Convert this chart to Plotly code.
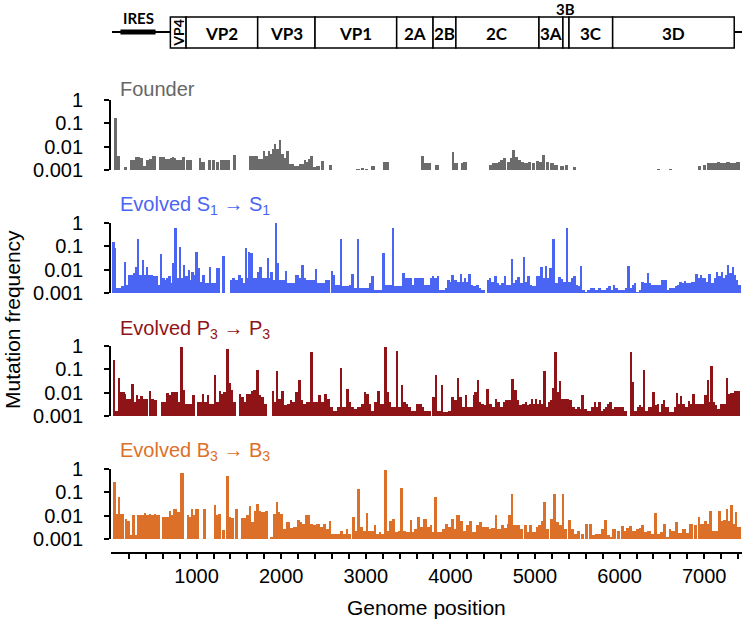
import plotly.graph_objects as go

W, H = 744, 630

# ---------------- genome map ----------------
gene_names = ["VP4", "VP2", "VP3", "VP1", "2A", "2B", "2C", "3A", "3B", "3C", "3D"]
gene_starts = [690, 876, 1722, 2400, 3365, 3795, 4065, 5047, 5330, 5402, 5918]
polyprotein_end = 7355
ires_region = [100, 515]

# ---------------- mutation frequencies ----------------
founder_pos = [24, 63, 142, 221, 245, 272, 323, 339, 378, 410, 442, 481, 568, 588, 607, 635, 666, 694,
               718, 738, 757, 793, 832, 883, 915, 1033, 1061, 1140, 1187, 1231, 1278, 1318, 1357, 1436,
               1625, 1653, 1680, 1704, 1732, 1759, 1791, 1818, 1850, 1878, 1901, 1929, 1948, 1980, 2008,
               2035, 2067, 2098, 2126, 2154, 2185, 2213, 2245, 2272, 2296, 2324, 2343, 2383, 2422, 2473,
               2572, 2895, 2946, 2994, 3073, 3211, 3243, 3659, 3693, 3731, 3828, 4022, 4051, 4129, 4158,
               4458, 4497, 4531, 4565, 4594, 4628, 4676, 4705, 4735, 4773, 4807, 4846, 4880, 4919, 4967,
               5016, 5050, 5088, 5137, 5185, 5234, 5306, 5355, 5452, 6445, 6590, 6930, 6988, 7036, 7075,
               7114, 7153, 7191, 7230, 7269, 7307, 7346, 7385]
founder_freq = [0.17, 0.0043, 0.0014, 0.0028, 0.0028, 0.0037, 0.0037, 0.0034, 0.0015, 0.0027, 0.0031,
                0.0043, 0.0037, 0.0037, 0.0037, 0.0031, 0.0031, 0.0034, 0.0037, 0.0034, 0.0027, 0.0027,
                0.0037, 0.0027, 0.0028, 0.0033, 0.0023, 0.0027, 0.0029, 0.0024, 0.0027, 0.0027, 0.0028,
                0.0046, 0.0043, 0.0043, 0.0043, 0.0043, 0.0031, 0.0031, 0.007, 0.0043, 0.007, 0.005,
                0.0083, 0.0135, 0.0083, 0.019, 0.005, 0.0034, 0.007, 0.0019, 0.0019, 0.0016, 0.0015,
                0.0019, 0.0019, 0.0027, 0.0023, 0.0031, 0.0043, 0.0014, 0.0015, 0.0025, 0.0018, 0.0012,
                0.0013, 0.0012, 0.0016, 0.0023, 0.0024, 0.0043, 0.002, 0.002, 0.0017, 0.006, 0.002,
                0.002, 0.0023, 0.0017, 0.002, 0.002, 0.0023, 0.0028, 0.0035, 0.0023, 0.0035, 0.0076,
                0.0039, 0.0028, 0.0023, 0.002, 0.0023, 0.002, 0.0025, 0.0023, 0.0046, 0.0023, 0.002,
                0.0017, 0.0016, 0.0017, 0.0014, 0.0012, 0.0012, 0.0016, 0.0017, 0.002, 0.002, 0.002,
                0.0023, 0.002, 0.002, 0.0023, 0.002, 0.002, 0.0023]

s1_pos = [16, 36, 55, 83, 115, 142, 166, 193, 225, 252, 280, 308, 331, 359, 383, 406, 430, 462, 493, 521,
          548, 568, 596, 627, 655, 678, 698, 718, 746, 769, 793, 817, 844, 872, 903, 927, 951, 971, 990,
          1022, 1050, 1073, 1101, 1128, 1152, 1180, 1211, 1239, 1306, 1397, 1424, 1456, 1495, 1527, 1550,
          1574, 1598, 1617, 1641, 1669, 1697, 1724, 1752, 1775, 1803, 1838, 1862, 1882, 1905, 1929, 1957,
          1984, 2016, 2047, 2075, 2107, 2134, 2166, 2197, 2221, 2245, 2272, 2300, 2331, 2363, 2402, 2430,
          2462, 2489, 2521, 2548, 2592, 2620, 2647, 2675, 2702, 2730, 2758, 2785, 2809, 2836, 2864, 2903,
          2931, 2963, 2994, 3026, 3053, 3073, 3101, 3132, 3160, 3203, 3231, 3262, 3286, 3314, 3341, 3369,
          3397, 3436, 3464, 3491, 3519, 3547, 3578, 3610, 3641, 3673,
          3692, 3724, 3763, 3791, 3818, 3842, 3873, 3905, 3937, 3968, 3996, 4019, 4047, 4079, 4118, 4142,
          4165, 4189, 4213, 4244, 4276, 4307, 4339, 4371, 4434, 4461, 4489, 4520, 4552, 4580, 4607, 4639,
          4666, 4694, 4726, 4749, 4773, 4797, 4828, 4860, 4887, 4923, 4946, 4974, 5014, 5041, 5073, 5096,
          5120, 5144, 5171, 5207, 5242, 5278, 5309, 5341, 5369, 5400, 5432, 5459, 5487, 5515, 5538, 5566,
          5593, 5625, 5657, 5688, 5720, 5751, 5783, 5814, 5846, 5874, 5901, 5925, 5956, 5988, 6020, 6051,
          6075, 6098, 6126, 6154, 6177, 6205, 6236, 6264, 6296, 6327, 6355, 6382, 6414, 6445, 6473, 6501,
          6532, 6564, 6595, 6627, 6659, 6690, 6714, 6741, 6765, 6793, 6820, 6848, 6880, 6903, 6927, 6951,
          6978, 7006, 7030, 7053, 7085, 7116, 7144, 7171, 7203, 7227, 7250, 7274, 7302, 7329, 7353, 7380,
          7400]
s1_freq = [0.16, 0.084, 0.0017, 0.0017, 0.002, 0.023, 0.0023, 0.0062, 0.0062, 0.0073, 0.014, 0.21, 0.0062,
           0.027, 0.0062, 0.014, 0.0062, 0.0062, 0.0053, 0.0053, 0.0023, 0.047, 0.0045, 0.0038, 0.0045,
           0.0053, 0.0027, 0.019, 0.59, 0.0045, 0.1, 0.0045, 0.016, 0.0053, 0.01, 0.0038, 0.0086, 0.0062,
           0.06, 0.012, 0.0032, 0.0062, 0.0027, 0.0027, 0.014, 0.0027, 0.0027, 0.012, 0.041, 0.0038, 0.0045,
           0.0038, 0.0062, 0.0045, 0.0027, 0.084, 0.0045, 0.06, 0.051, 0.0045, 0.0045, 0.0086, 0.014, 0.0045,
           0.0045, 0.034, 0.0045, 0.0086, 0.0038, 1.0, 0.019, 0.0038, 0.0038, 0.009, 0.0027, 0.0027, 0.0027,
           0.0062, 0.0062, 0.0045, 0.016, 0.0045, 0.0038, 0.0038, 0.0038, 0.011, 0.0027, 0.0027, 0.0027,
           0.0038, 0.0038, 0.009, 0.0062, 0.0023, 0.0023, 0.21, 0.002, 0.002, 0.002, 0.0023, 0.007, 0.0017,
           0.21, 0.0017, 0.0017, 0.0017, 0.0017, 0.0027, 0.0053, 0.0014, 0.0014, 0.0014, 0.051, 0.0023,
           0.0023, 0.0023, 0.63, 0.002, 0.002, 0.002, 0.0078, 0.0045, 0.0045, 0.0045, 0.0023, 0.0045,
           0.0045, 0.0045, 0.0045,
           0.0023, 0.0023, 0.0045, 0.0053, 0.0045, 0.0053, 0.0014, 0.0014, 0.0017, 0.0038, 0.0032, 0.0062,
           0.0038, 0.0032, 0.007, 0.0032, 0.0045, 0.0032, 0.0068, 0.0023, 0.002, 0.0023, 0.0017, 0.0014,
           0.0038, 0.0045, 0.0032, 0.0053, 0.0027, 0.0023, 0.0027, 0.0053, 0.0023, 0.0023, 0.028, 0.0027,
           0.0038, 0.0048, 0.0027, 0.035, 0.0032, 0.0058, 0.0023, 0.002, 0.0053, 0.0053, 0.014, 0.0045,
           0.015, 0.0045, 0.012, 0.21, 0.0027, 0.0048, 0.0042, 0.0032, 0.59, 0.0032, 0.0045, 0.0058, 0.0023,
           0.002, 0.015, 0.0014, 0.0012, 0.0014, 0.0017, 0.0017, 0.0014, 0.0017, 0.0014, 0.0014, 0.0017,
           0.002, 0.0014, 0.0023, 0.0017, 0.0014, 0.0014, 0.0014, 0.0017, 0.015, 0.0017, 0.0023, 0.0027,
           0.0012, 0.0014, 0.0032, 0.0027, 0.0078, 0.0027, 0.0023, 0.0023, 0.0023, 0.0023, 0.0038, 0.0038,
           0.0014, 0.0017, 0.0017, 0.002, 0.0023, 0.0032, 0.0027, 0.0035, 0.0027, 0.0027, 0.0032, 0.0032,
           0.0068, 0.0045, 0.0062, 0.0045, 0.0045, 0.0032, 0.0068, 0.0027, 0.0045, 0.0086, 0.0053, 0.0086,
           0.0045, 0.0062, 0.016, 0.0073, 0.014, 0.0062, 0.0038, 0.0023]

p3_pos = [23, 47, 83, 106, 134, 154, 177, 201, 233, 264, 292, 315, 339, 367, 390, 442, 469, 497, 580, 607,
          627, 651, 674, 706, 734, 761, 785, 812, 840, 872, 903, 927, 951, 1006, 1033, 1069, 1097, 1124,
          1152, 1179, 1207, 1234, 1266, 1294, 1321, 1353, 1385, 1412, 1436, 1503, 1535, 1566, 1594, 1625,
          1653, 1677, 1712, 1740, 1771, 1803, 1901, 1921, 1941, 1968, 2008, 2039, 2071, 2110, 2138, 2166,
          2205, 2237, 2268, 2300, 2324, 2347, 2379, 2410, 2442, 2473, 2513, 2552, 2584, 2615, 2647, 2671,
          2698, 2726, 2750, 2773, 2805, 2836, 2868, 2899, 2931, 2955, 2986, 3014, 3041, 3073, 3105, 3144,
          3176, 3199, 3223, 3254, 3278, 3302, 3333, 3361, 3389, 3420, 3448, 3476, 3507, 3539, 3570, 3602,
          3633, 3665, 3689, 3712, 3739, 3791, 3810, 3830, 3850, 3897, 3921, 3948, 3976, 4015, 4047, 4083,
          4110, 4138, 4173, 4205, 4236, 4276, 4296, 4315, 4343, 4371, 4402, 4430, 4461, 4493, 4528, 4560,
          4591, 4623, 4655, 4686, 4726, 4757, 4789, 4820, 4852, 4883, 4915, 4939, 4962, 4986, 5010, 5033,
          5057, 5081, 5104, 5132, 5160, 5183, 5207, 5235, 5262, 5290, 5317, 5349, 5380, 5412, 5444, 5475,
          5507, 5534, 5554, 5586, 5617, 5645, 5672, 5704, 5728, 5751, 5783, 5810, 5838, 5862, 5885, 5913,
          5941, 5972, 6000, 6027, 6059, 6126, 6154, 6181, 6209, 6236, 6260, 6284, 6311, 6339, 6367, 6394,
          6422, 6450, 6477, 6501, 6525, 6548, 6595, 6627, 6651, 6671, 6698, 6722, 6749, 6777, 6809, 6836,
          6872, 6895, 6927, 6959, 6982, 7006, 7037, 7061, 7085, 7108, 7136, 7163, 7195, 7227, 7262, 7290,
          7313, 7337, 7361, 7384]
p3_freq = [0.25, 0.0018, 0.044, 0.011, 0.011, 0.0094, 0.0057, 0.0057, 0.025, 0.0041, 0.0079, 0.0057, 0.0072,
           0.0057, 0.0057, 0.012, 0.0057, 0.0048, 0.0041, 0.0041, 0.0041, 0.0097, 0.0079, 0.011, 0.011,
           0.011, 0.0041, 0.87, 0.013, 0.0035, 0.0035, 0.0035, 0.0085, 0.0041, 0.0041, 0.0088, 0.0041,
           0.0085, 0.0035, 0.0035, 0.057, 0.0041, 0.012, 0.0094, 0.011, 0.72, 0.027, 0.013, 0.0041, 0.0094,
           0.0067, 0.0041, 0.0088, 0.0094, 0.012, 0.014, 0.1, 0.0079, 0.0067, 0.0035, 0.012, 0.0041, 0.088,
           0.0057, 0.012, 0.003, 0.0035, 0.0048, 0.0041, 0.011, 0.037, 0.0048, 0.0035, 0.0041, 0.0041, 0.57,
           0.0041, 0.0041, 0.0079, 0.0041, 0.0094, 0.0057, 0.0025, 0.0018, 0.0018, 0.0025, 0.12, 0.0025,
           0.0025, 0.015, 0.0041, 0.0025, 0.0021, 0.0025, 0.0025, 0.0035, 0.011, 0.0094, 0.0035, 0.0018,
           0.0041, 0.012, 0.0035, 0.0035, 0.93, 0.011, 0.0041, 0.0025, 0.0025, 0.6, 0.0025, 0.021, 0.0041,
           0.0035, 0.0025, 0.0018, 0.0018, 0.0035, 0.0035, 0.0025, 0.0018, 0.0018, 0.0018, 0.0067, 0.0067,
           0.06, 0.0018, 0.021, 0.0015, 0.0015, 0.0018, 0.0067, 0.0048, 0.045, 0.0067, 0.0025, 0.0085,
           0.0025, 0.0025, 0.0079, 0.011, 0.035, 0.0041, 0.0035, 0.003, 0.015, 0.0035, 0.0025, 0.0057,
           0.0041, 0.0025, 0.0041, 0.0048, 0.0048, 0.041, 0.013, 0.0048, 0.003, 0.0035, 0.0041, 0.003,
           0.0035, 0.0055, 0.0035, 0.0055, 0.0035, 0.0048, 0.0035, 0.085, 0.0025, 0.0041, 0.0048, 0.016,
           0.57, 0.011, 0.032, 0.0057, 0.0057, 0.0055, 0.0048, 0.0025, 0.0021, 0.0025, 0.0021, 0.0085,
           0.0021, 0.0018, 0.0018, 0.0025, 0.0041, 0.0025, 0.0041, 0.0018, 0.0021, 0.0025, 0.0035, 0.0041,
           0.0021, 0.0025, 0.0025, 0.0025, 0.0025, 0.0018, 0.57, 0.03, 0.0018, 0.0025, 0.003, 0.0025, 0.1,
           0.0018, 0.0025, 0.0025, 0.011, 0.003, 0.0035, 0.0015, 0.0035, 0.0048, 0.0025, 0.0015, 0.0015,
           0.0025, 0.0097, 0.0035, 0.0072, 0.0035, 0.0025, 0.0045, 0.0035, 0.0088, 0.0035, 0.0035, 0.0035,
           0.0035, 0.0079, 0.037, 0.0041, 0.14, 0.0041, 0.003, 0.0021, 0.0035, 0.0035, 0.044, 0.0094,
           0.0097, 0.0097, 0.012, 0.012]

b3_pos = [23, 55, 83, 106, 162, 185, 213, 252, 272, 312, 335, 359, 383, 410, 438, 469, 501, 528, 607, 627,
          651, 674, 702, 726, 753, 777, 812, 895, 915, 935, 962, 990, 1081, 1211, 1235, 1258, 1306, 1357,
          1384, 1408, 1456, 1534, 1566, 1594, 1625, 1653, 1680, 1712, 1740, 1771, 1811, 1878, 1909, 1941,
          1968, 1996, 2028, 2067, 2107, 2146, 2174, 2193, 2225, 2253, 2284, 2312, 2343, 2383, 2422, 2462,
          2501, 2540, 2572, 2600, 2639, 2679, 2698, 2738, 2769, 2797, 2844, 2876, 2903, 2935, 2974, 3006,
          3034, 3073, 3105, 3132, 3160, 3191, 3227, 3262, 3286, 3310, 3349, 3381, 3412, 3448, 3487, 3527,
          3554, 3586, 3606, 3645, 3685, 3724, 3763, 3791, 3818, 3850, 3881, 3909, 3937, 3976, 4008, 4047,
          4075, 4114, 4157, 4185, 4225, 4264, 4303, 4343, 4382, 4422, 4461, 4489, 4528, 4560, 4599, 4639,
          4670, 4698, 4718, 4749, 4789, 4828, 4876, 4915, 4939, 4974, 5014, 5053, 5073, 5104, 5136, 5183,
          5215, 5254, 5290, 5321, 5349, 5396, 5428, 5467, 5499, 5546, 5593, 5645, 5684, 5712, 5743, 5783,
          5822, 5862, 5893, 5921, 5972, 6020, 6059, 6087, 6118, 6158, 6197, 6236, 6256, 6296, 6335, 6374,
          6414, 6453, 6485, 6517, 6552, 6592, 6619, 6663, 6698, 6749, 6789, 6828, 6880, 6927, 6951, 6974,
          7014, 7037, 7065, 7104, 7144, 7175, 7203, 7223, 7262, 7290, 7309, 7341, 7372, 7396]
b3_freq = [0.29, 0.0126, 0.065, 0.0126, 0.0077, 0.0059, 0.0015, 0.0107, 0.0016, 0.0114, 0.0114, 0.0114,
           0.014, 0.0107, 0.0126, 0.0107, 0.0126, 0.0114, 0.0091, 0.0091, 0.0091, 0.017, 0.0107, 0.02, 0.02,
           0.015, 0.7, 0.0107, 0.0091, 0.019, 0.0107, 0.019, 0.019, 0.03, 0.0107, 0.012, 0.0026, 0.5, 0.0091,
           0.0085, 0.02, 0.0082, 0.0082, 0.0107, 0.026, 0.0055, 0.017, 0.034, 0.017, 0.015, 0.017, 0.0013,
           0.0126, 0.04, 0.015, 0.0126, 0.0029, 0.0055, 0.0031, 0.0034, 0.0034, 0.0065, 0.0055, 0.0047,
           0.0107, 0.0114, 0.0047, 0.004, 0.0047, 0.0034, 0.0047, 0.0029, 0.0061, 0.0017, 0.0017, 0.0017,
           0.0024, 0.0017, 0.0029, 0.0017, 0.0091, 0.0024, 0.14, 0.0034, 0.0024, 0.0135, 0.0024, 0.0024,
           0.0042, 0.0017, 0.0021, 0.0017, 0.9, 0.0024, 0.0061, 0.0077, 0.0021, 0.0024, 0.15, 0.0024, 0.0021,
           0.0065, 0.0021, 0.0029, 0.0091, 0.0034, 0.0077, 0.0034, 0.0042, 0.0021, 0.065, 0.0021, 0.0021,
           0.0029, 0.0047, 0.0034, 0.0077, 0.0029, 0.0114, 0.0059, 0.0024, 0.004, 0.0063, 0.0021, 0.004,
           0.0055, 0.0034, 0.0034, 0.0029, 0.0031, 0.0114, 0.0029, 0.0042, 0.0031, 0.0047, 0.0107, 0.085,
           0.004, 0.0042, 0.0029, 0.0042, 0.0021, 0.0042, 0.0021, 0.0034, 0.004, 0.0059, 0.04, 0.0029,
           0.0077, 0.085, 0.0055, 0.004, 0.085, 0.0029, 0.0065, 0.0029, 0.0017, 0.0024, 0.0017, 0.0047,
           0.0046, 0.0015, 0.0017, 0.0017, 0.0029, 0.0065, 0.0015, 0.0013, 0.0029, 0.0024, 0.0036, 0.0024,
           0.003, 0.0036, 0.0024, 0.0029, 0.003, 0.0042, 0.0021, 0.0024, 0.0017, 0.0135, 0.0017, 0.0021,
           0.0047, 0.0013, 0.0029, 0.0024, 0.0055, 0.0019, 0.0029, 0.0019, 0.0047, 0.004, 0.0091, 0.0047,
           0.0047, 0.0059, 0.0047, 0.017, 0.0024, 0.0024, 0.017, 0.0059, 0.0065, 0.02, 0.0059, 0.028,
           0.0047, 0.015, 0.0035]

panel_titles = ["Founder", "Evolved S<sub>1</sub> \u2192 S<sub>1</sub>",
                "Evolved P<sub>3</sub> \u2192 P<sub>3</sub>", "Evolved B<sub>3</sub> \u2192 B<sub>3</sub>"]
panel_colors = ["#6b6b6b", "#4a64f4", "#8f1417", "#dc7028"]
panel_title_colors = ["#666666", "#4a64f4", "#8f1417", "#dc7028"]

y_tick_vals = [0.001, 0.01, 0.1, 1]
y_tick_text = ["0.001", "0.01", "0.1", "1"]
x_minor_step = 200
x_label_step = 1000

# ---------------- layout geometry (pixels) ----------------
FONT = "Liberation Sans, Arial, sans-serif"
MAPFONT = "Lato, sans-serif"
X_LEFT_PX, X_RIGHT_PX = 110.5, 742.0
PX_PER_NT = 0.0846
x_min = -(112.0 - X_LEFT_PX) / PX_PER_NT
x_max = x_min + (X_RIGHT_PX - X_LEFT_PX) / PX_PER_NT
panel_tops = [99.5, 222.5, 345.5, 468.5]
PANEL_H = 70.5
title_py = [89, 206, 329, 451]
XAXIS_PY = 553
MAP_H = 55
CAP = 40
FLOOR = 0.001
PAD = "\u00a0\u00a0\u00a0"


def pyp(py):
    return 1 - py / H


fig = go.Figure()

datasets = [(founder_pos, founder_freq), (s1_pos, s1_freq), (p3_pos, p3_freq), (b3_pos, b3_freq)]
for i, (pos, freq) in enumerate(datasets):
    widths = [min(pos[k + 1] - pos[k], CAP) if k < len(pos) - 1 else CAP for k in range(len(pos))]
    fig.add_trace(go.Bar(
        x=pos, y=[f - FLOOR for f in freq], base=FLOOR, width=widths, offset=-12,
        marker=dict(color=panel_colors[i], line=dict(width=0)),
        xaxis="x", yaxis="y" if i == 0 else f"y{i + 1}",
        hoverinfo="skip", showlegend=False))

# invisible trace to create the genome-map subplot
fig.add_trace(go.Scatter(x=[None], y=[None], xaxis="x", yaxis="y5", showlegend=False))

tickvals = list(range(x_minor_step, int(x_max) + 1, x_minor_step))
ticktext = [str(v) if v % x_label_step == 0 else "" for v in tickvals]

layout = dict(
    width=W, height=H, margin=dict(l=0, r=0, t=0, b=0, autoexpand=False),
    paper_bgcolor="white", plot_bgcolor="white",
    font=dict(family=FONT, size=20, color="black"),
    bargap=0, barmode="overlay",
    xaxis=dict(domain=[X_LEFT_PX / W, X_RIGHT_PX / W], range=[x_min, x_max],
               anchor="free", position=pyp(XAXIS_PY), automargin=False,
               showline=True, linecolor="black", linewidth=1.5,
               ticks="outside", ticklen=5, tickwidth=1.5, tickcolor="black",
               tickvals=tickvals, ticktext=ticktext,
               tickfont=dict(size=20, family=FONT),
               showgrid=False, zeroline=False),
)
for i, top in enumerate(panel_tops):
    key = "yaxis" if i == 0 else f"yaxis{i + 1}"
    layout[key] = dict(
        domain=[pyp(top + PANEL_H), pyp(top)], type="log", range=[-3, 0], anchor="x",
        automargin=False,
        showline=True, linecolor="black", linewidth=1.5,
        ticks="outside", ticklen=5, tickwidth=1.5, tickcolor="black",
        tickvals=y_tick_vals, ticktext=[t + PAD for t in y_tick_text],
        tickfont=dict(size=20, family=FONT),
        showgrid=False, zeroline=False)
layout["yaxis5"] = dict(domain=[pyp(MAP_H), 1], range=[MAP_H, 0], anchor="x", visible=False,
                        automargin=False)
fig.update_layout(**layout)

# ---------------- genome map shapes ----------------
BOX_T, BOX_B, MID = 17, 48, 32
shapes = []
shapes.append(dict(type="line", xref="x", yref="y5", x0=0, x1=gene_starts[0], y0=MID, y1=MID,
                   line=dict(color="black", width=2)))
shapes.append(dict(type="rect", xref="x", yref="y5", x0=ires_region[0], x1=ires_region[1],
                   y0=MID - 2.5, y1=MID + 2.5, fillcolor="black", line=dict(width=0)))
shapes.append(dict(type="line", xref="x", yref="y5", x0=polyprotein_end, x1=x_max, y0=MID, y1=MID,
                   line=dict(color="black", width=2)))
ends = gene_starts[1:] + [polyprotein_end]
annotations = []
for name, s, e in zip(gene_names, gene_starts, ends):
    shapes.append(dict(type="rect", xref="x", yref="y5", x0=s, x1=e, y0=BOX_T, y1=BOX_B,
                       fillcolor="white", line=dict(color="black", width=1.5)))
    cx = (s + e) / 2
    if name == "VP4":
        annotations.append(dict(x=cx, y=(BOX_T + BOX_B) / 2, xref="x", yref="y5", text="<b>VP4</b>",
                                textangle=-90, showarrow=False, xanchor="center", yanchor="middle",
                                font=dict(family=MAPFONT, size=14, color="black")))
    elif name == "3B":
        annotations.append(dict(x=cx, y=8.5, xref="x", yref="y5", text="<b>3B</b>", showarrow=False,
                                xanchor="center", yanchor="middle",
                                font=dict(family=MAPFONT, size=15, color="black")))
    else:
        annotations.append(dict(x=cx, y=(BOX_T + BOX_B) / 2 + 0.5, xref="x", yref="y5",
                                text=f"<b>{name}</b>", showarrow=False, xanchor="center",
                                yanchor="middle",
                                font=dict(family=MAPFONT, size=17, color="black")))
annotations.append(dict(x=(ires_region[0] + ires_region[1]) / 2, y=MID - 3, xref="x", yref="y5",
                        xanchor="center", yanchor="bottom", text="<b>IRES</b>", showarrow=False,
                        font=dict(family=MAPFONT, size=15, color="black")))

# ---------------- titles ----------------
for t, py, c in zip(panel_titles, title_py, panel_title_colors):
    annotations.append(dict(x=118 / W, y=pyp(py), xref="paper", yref="paper", xanchor="left",
                            yanchor="middle", text=t, showarrow=False,
                            font=dict(family=FONT, size=20, color=c)))
annotations.append(dict(x=12 / W, y=pyp(320), xref="paper", yref="paper", text="Mutation frequency",
                        textangle=-90, showarrow=False, xanchor="center", yanchor="middle",
                        font=dict(family=FONT, size=21, color="black")))
annotations.append(dict(x=426 / W, y=pyp(607), xref="paper", yref="paper", text="Genome position",
                        showarrow=False, xanchor="center", yanchor="middle",
                        font=dict(family=FONT, size=21, color="black")))

fig.update_layout(shapes=shapes, annotations=annotations)
fig.write_html("out.html", config={"displayModeBar": False},
               post_script="document.body.style.margin='0px';document.body.style.overflow='hidden';")
